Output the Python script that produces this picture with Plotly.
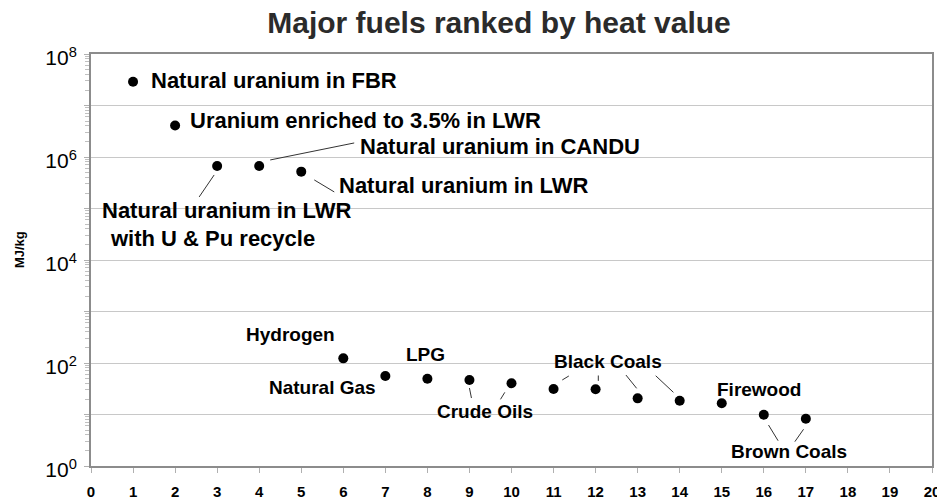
import numpy as np
import plotly.graph_objects as go

# ---- data ----
rank = list(range(1, 18))
heat_mj_kg = [2.9e7, 4.1e6, 6.7e5, 6.7e5, 5.2e5, 123, 56, 49.5, 46.7, 40.3,
              31.3, 31.0, 20.6, 18.5, 16.5, 9.9, 8.3]
fuel = ["Natural uranium in FBR", "Uranium enriched to 3.5% in LWR",
        "Natural uranium in LWR with U & Pu recycle", "Natural uranium in CANDU",
        "Natural uranium in LWR", "Hydrogen", "Natural Gas", "LPG",
        "Crude Oils", "Crude Oils", "Black Coals", "Black Coals", "Black Coals",
        "Black Coals", "Firewood", "Brown Coals", "Brown Coals"]
x_ticks = list(range(0, 21))
y_decades = list(range(0, 9))

FONT = "Liberation Sans, Arial, Helvetica, sans-serif"
GRAY = "#8c8c8c"

# layout geometry (page body has an 8px margin; figure sized to fill the window after it)
FIG_W, FIG_H = 937, 491
M_L, M_R, M_T, M_B = 83, 13, 46, 33
X_RANGE = (0, 20)
Y_RANGE = (0, 8)
px_per_x = (FIG_W - M_L - M_R) / (X_RANGE[1] - X_RANGE[0])
px_per_dec = (FIG_H - M_T - M_B) / (Y_RANGE[1] - Y_RANGE[0])

fig = go.Figure()

# leader lines anchored at data points: screen-pixel offsets (dx0, dy0, dx1, dy1), y down
leaders = [(3, -3, 9, -18, 31), (4, 11, -6, 95, -23), (5, 13, 8.3, 33, 20.3),
           (9, 0, 8, 2, 18), (10, -6.7, 9, -11, 16), (11, 8.7, -9, 15.3, -13),
           (12, 2.7, -8.3, 2.7, -13.7), (13, -1, -10, -11.7, -23.3),
           (14, -6.3, -8.4, -24, -25), (16, 4.7, 10.3, 14.3, 26),
           (17, -2.3, 10.6, -11, 23)]
lx, ly = [], []
for idx, dx0, dy0, dx1, dy1 in leaders:
    x0, y0 = rank[idx - 1], heat_mj_kg[idx - 1]
    lx += [x0 + dx0 / px_per_x, x0 + dx1 / px_per_x, None]
    ly += [y0 * 10 ** (-dy0 / px_per_dec), y0 * 10 ** (-dy1 / px_per_dec), None]
fig.add_trace(go.Scatter(x=lx, y=ly, mode="lines", line=dict(color="#333333", width=1),
                         hoverinfo="skip", showlegend=False))

fig.add_trace(go.Scatter(
    x=rank, y=heat_mj_kg, mode="markers", text=fuel,
    marker=dict(color="black", size=10, line=dict(width=0)),
    hovertemplate="%{text}: %{y} MJ/kg<extra></extra>", showlegend=False))

ann = []
# text labels (x in data units, y in log10 units)
upper = [
    ("Natural uranium in FBR", 1.379, 7.476),
    ("Uranium enriched to 3.5% in LWR", 2.307, 6.718),
    ("Natural uranium in CANDU", 6.35, 6.20),
    ("Natural uranium in LWR", 5.85, 5.456),
    ("Natural uranium in LWR", 0.214, 4.957),
    ("with U & Pu recycle", 0.404, 4.427),
]
for t, xx, yy in upper:
    ann.append(dict(text=t, x=xx, y=yy, xref="x", yref="y", showarrow=False,
                    xanchor="left", yanchor="middle",
                    font=dict(family=FONT, size=22, color="black", weight="bold")))
lower = [
    ("Hydrogen", 4.756, 2.544),
    ("Natural Gas", 5.505, 1.534),
    ("LPG", 7.943, 2.169),
    ("Crude Oils", 9.37, 1.054),
    ("Black Coals", 12.289, 2.025),
    ("Firewood", 15.881, 1.489),
    ("Brown Coals", 16.606, 0.278),
]
for t, xx, yy in lower:
    ann.append(dict(text=t, x=xx, y=yy, xref="x", yref="y", showarrow=False,
                    xanchor="center", yanchor="middle",
                    font=dict(family=FONT, size=19, color="black", weight="bold")))

ann.append(dict(text="MJ/kg", xref="paper", yref="paper", x=-0.0856, y=0.524,
                showarrow=False, textangle=-90, xanchor="center", yanchor="middle",
                font=dict(family=FONT, size=13, color="black", weight="bold")))

minor_vals = [m * 10.0 ** k for k in range(0, 8) for m in range(2, 10)]

fig.update_layout(
    width=FIG_W, height=FIG_H,
    margin=dict(l=M_L, r=M_R, t=M_T, b=M_B),
    paper_bgcolor="white", plot_bgcolor="white",
    title=dict(text="Major fuels ranked by heat value", xref="container",
               x=0.524, xanchor="center", y=0.97, yanchor="middle",
               font=dict(family=FONT, size=30, color="#2b2b2b", weight="bold")),
    annotations=ann,
    xaxis=dict(range=list(X_RANGE), tickmode="array", tickvals=x_ticks,
               ticktext=[str(v) for v in x_ticks], automargin=False,
               showgrid=False, zeroline=False, showline=True, linecolor=GRAY,
               linewidth=2, mirror=True, ticks="outside", ticklen=5,
               tickcolor="#b0b0b0", tickwidth=1, ticklabelstandoff=6,
               tickfont=dict(family=FONT, size=15, color="black", weight="bold")),
    yaxis=dict(type="log", range=list(Y_RANGE), tickmode="array", automargin=False,
               tickvals=[10.0 ** d for d in y_decades],
               ticktext=[("10<sup>%d</sup>" % d) if d % 2 == 0 else "" for d in y_decades],
               showgrid=True, gridcolor="#c8c8c8", gridwidth=1,
               zeroline=False, showline=True, linecolor=GRAY, linewidth=2,
               mirror=True, ticks="outside", ticklen=5, tickcolor="#b0b0b0",
               ticklabelstandoff=3, ticklabelshift=4,
               minor=dict(tickmode="array", tickvals=minor_vals, ticks="outside",
                          ticklen=4, tickcolor="#c0c0c0", showgrid=False),
               tickfont=dict(family=FONT, size=21, color="black")),
)

fig.write_html("out.html")
